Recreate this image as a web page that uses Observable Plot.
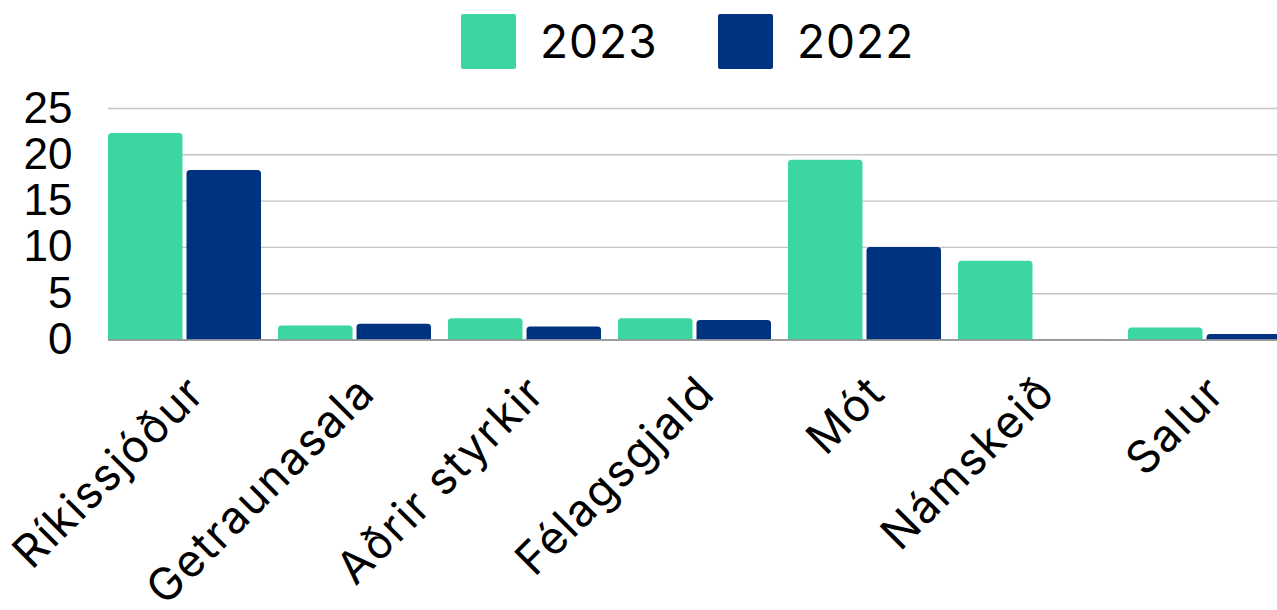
<!DOCTYPE html>
<html>
<head>
<meta charset="utf-8">
<script src="https://cdn.jsdelivr.net/npm/d3@7"></script>
<script src="https://cdn.jsdelivr.net/npm/@observablehq/plot@0.6"></script>
<style>
  html, body { margin: 0; padding: 0; background: #fff; overflow: hidden; width: 1277px; height: 610px; }
  #legend { position: relative; height: 80px; font-family: "Inter", "Noto Sans", sans-serif; font-size: 46px; color: #000; letter-spacing: 1px; }
  .sw { position: absolute; top: 14px; width: 55px; height: 55px; border-radius: 2px; }
  .lt { position: absolute; top: 14px; height: 55px; line-height: 55px; }
  #chart svg text.xl { letter-spacing: 1.6px; }
</style>
</head>
<body>
<div id="legend"></div>
<div id="chart"></div>
<script>
const categories = ["Ríkissjóður", "Getraunasala", "Aðrir styrkir", "Félagsgjald", "Mót", "Námskeið", "Salur"];
const values2023 = [22.3, 1.5, 2.3, 2.3, 19.4, 8.5, 1.3];
const values2022 = [18.3, 1.7, 1.4, 2.1, 10.0, 0, 0.6];
const series = ["2023", "2022"];
const colors = ["#3cd6a0", "#00337f"];
const yTicks = [0, 5, 10, 15, 20, 25];

// legend
const legend = document.getElementById("legend");
const legendPos = [{sw: 461, lt: 540}, {sw: 718, lt: 797}];
series.forEach((s, i) => {
  const sw = document.createElement("div");
  sw.className = "sw"; sw.style.left = legendPos[i].sw + "px"; sw.style.background = colors[i];
  const lt = document.createElement("div");
  lt.className = "lt"; lt.style.left = legendPos[i].lt + "px"; lt.textContent = s;
  legend.appendChild(sw); legend.appendChild(lt);
});

const d2023 = categories.map((c, i) => ({category: c, value: values2023[i]}));
const d2022 = categories.map((c, i) => ({category: c, value: values2022[i]}));

const W = 1281;
const bandwidth = 153;
const half = bandwidth / 2;

const plot = Plot.plot({
  width: W,
  height: 530,
  marginLeft: 108,
  marginRight: 0,
  marginTop: 28,
  marginBottom: 270.5,
  style: {fontFamily: "Inter, sans-serif", fontSize: "45px", maxWidth: "none", background: "transparent", overflow: "visible"},
  x: {domain: categories, type: "band", paddingInner: 0.1, paddingOuter: 0, axis: null},
  y: {domain: [0, 25], axis: null},
  marks: [
    Plot.gridY(yTicks, {stroke: "#c4c4c4", strokeOpacity: 1, strokeWidth: 1.4}),
    Plot.axisY(yTicks, {tickSize: 0, tickPadding: 36, fontSize: 44, fontFamily: "Liberation Sans, Arial, sans-serif", fill: "#000", label: null}),
    Plot.barY(d2023, {x: "category", y: "value", fill: colors[0], insetRight: half + 2, insetBottom: -5, rx: 3.5, clip: true}),
    Plot.barY(d2022, {x: "category", y: "value", fill: colors[1], insetLeft: half + 2, insetBottom: -5, rx: 3.5, clip: true}),
    Plot.ruleY([0], {stroke: "#8c8c8c", strokeWidth: 1.6}),
    Plot.text(categories, {x: d => d, frameAnchor: "bottom", dy: 45, dx: 12, rotate: -45, textAnchor: "end", lineAnchor: "middle", fontSize: 45, fontFamily: "Inter", fill: "#000", className: "xl"})
  ]
});
document.getElementById("chart").appendChild(plot);
// apply letter spacing to category labels
plot.querySelectorAll("g.xl text, .xl text").forEach(t => t.style.letterSpacing = "1.6px");
</script>
</body>
</html>
